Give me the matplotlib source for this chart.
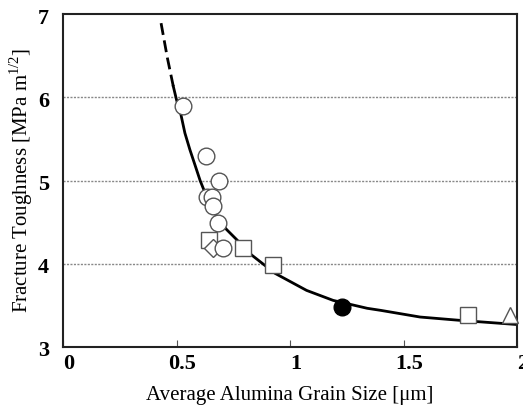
import matplotlib.pyplot as plt
from matplotlib.transforms import ScaledTranslation

plt.rcParams["font.family"] = "Liberation Serif"
plt.rcParams["mathtext.fontset"] = "custom"
plt.rcParams["mathtext.rm"] = "Liberation Serif"

# fitted curve
fit_dash_x = [0.432, 0.46, 0.486]
fit_dash_y = [6.89, 6.47, 6.13]
fit_x = [0.486, 0.50, 0.518, 0.537, 0.559, 0.581, 0.604, 0.626, 0.655, 0.684,
         0.721, 0.765, 0.831, 0.934, 1.073, 1.19, 1.34, 1.40, 1.573, 1.749, 2.0]
fit_y = [6.13, 5.97, 5.81, 5.57, 5.37, 5.19, 5.0, 4.85, 4.69, 4.53,
         4.41, 4.29, 4.105, 3.885, 3.68, 3.56, 3.465, 3.44, 3.36, 3.32, 3.27]

circle_x = [0.530, 0.630, 0.687, 0.633, 0.658, 0.662, 0.684, 0.706]
circle_y = [5.89, 5.29, 5.0, 4.80, 4.80, 4.69, 4.49, 4.19]
square_x = [0.645, 0.791, 0.926, 1.786]
square_y = [4.29, 4.19, 3.98, 3.38]
diamond_x = [0.66]
diamond_y = [4.19]
filled_x = [1.23]
filled_y = [3.48]
triangle_x = [1.969]
triangle_y = [3.38]

x_ticks = [0, 0.5, 1, 1.5, 2]
x_ticklabels = ["0", "0.5", "1", "1.5", "2"]
y_ticks = [3, 4, 5, 6, 7]

fig = plt.figure(figsize=(5.23, 4.05), dpi=100)
ax = fig.add_axes([63 / 523, 58 / 405, 454 / 523, 333 / 405])

ax.plot(fit_dash_x, fit_dash_y, color="black", lw=2, ls=(0, (4.3, 2)), zorder=2)
ax.plot(fit_x, fit_y, color="black", lw=2, zorder=2)

mk = dict(markerfacecolor="white", markeredgecolor="#555555", markeredgewidth=1.0,
          linestyle="none", zorder=3)
ax.plot(square_x, square_y, marker="s", markersize=12, **mk)
ax.plot(diamond_x, diamond_y, marker="D", markersize=9, **mk)
ax.plot(circle_x, circle_y, marker="o", markersize=12, **mk)
ax.plot(triangle_x, triangle_y, marker="^", markersize=12, clip_on=False, **mk)
ax.plot(filled_x, filled_y, marker="o", markersize=12, color="black", linestyle="none", zorder=3)

ax.set_xlim(0, 2)
ax.set_ylim(3, 7)
ax.set_xticks(x_ticks)
ax.set_xticklabels(x_ticklabels, fontsize=16, fontweight="bold")
ax.set_yticks(y_ticks)
ax.set_yticklabels([str(v) for v in y_ticks], fontsize=16, fontweight="bold")
ax.tick_params(axis="x", direction="in", length=5, width=0.8, color="#555555", pad=5)
ax.tick_params(axis="y", length=0, pad=10)

shift_x = ScaledTranslation(6 / 100, 0, fig.dpi_scale_trans)
for lab in ax.get_xticklabels():
    lab.set_transform(lab.get_transform() + shift_x)
shift_y = ScaledTranslation(0, -2 / 100, fig.dpi_scale_trans)
for lab in ax.get_yticklabels():
    lab.set_transform(lab.get_transform() + shift_y)

for yv in [4, 5, 6]:
    ax.axhline(yv, color="#888888", lw=1, ls=(0, (1.5, 1)), zorder=1)

for sp in ax.spines.values():
    sp.set_linewidth(1.5)
    sp.set_color("#222222")

ax.set_xlabel("Average Alumina Grain Size [\u03bcm]", fontsize=15)
ax.xaxis.set_label_coords(0.5, -0.118)
ax.set_ylabel("Fracture Toughness [MPa m$^{1/2}$]", fontsize=15, va="center")
ax.yaxis.set_label_coords(-0.093, 0.5)

fig.savefig("out.png", dpi=100)
